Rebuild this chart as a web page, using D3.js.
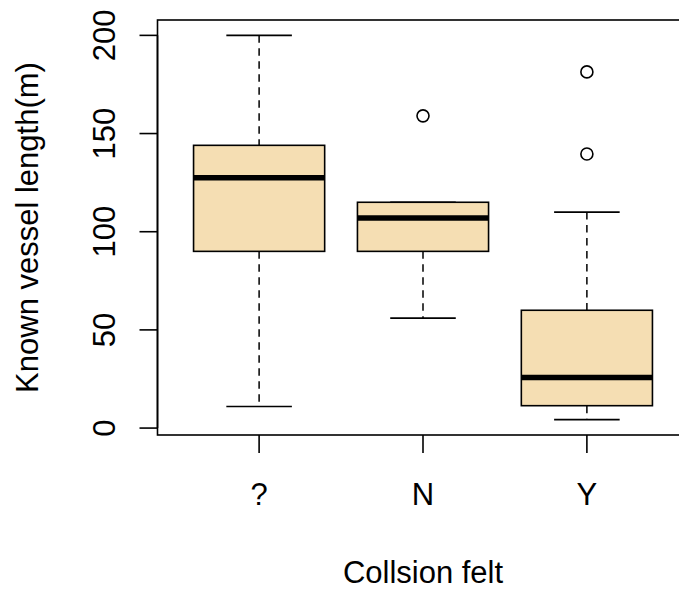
<!DOCTYPE html>
<html>
<head>
<meta charset="utf-8">
<script src="https://cdn.jsdelivr.net/npm/d3@7"></script>
<style>
  html, body { margin: 0; padding: 0; background: #fff; }
  svg { display: block; }
  text { font-family: "Liberation Sans", Arial, sans-serif; fill: #000; }
</style>
</head>
<body>
<svg id="chart" width="679" height="589"></svg>
<script>
// Known vessel length by whether the collision was felt
const categories   = ["?", "N", "Y"];
const whiskerLow   = [11, 56, 4.3];
const quartile1    = [90, 90, 11.4];
const medians      = [127.5, 107, 25.7];
const quartile3    = [144, 115, 60];
const whiskerHigh  = [200, 115, 110];
const outliers     = [[], [159], [181.4, 139.6]];
const yTicks       = [0, 50, 100, 150, 200];

const svg = d3.select("#chart");
const W = 679, H = 589;
svg.append("rect").attr("width", W).attr("height", H).attr("fill", "#fff");

const plot = { left: 157.5, top: 20, right: 688.5, bottom: 435 };
const fontSize = 31;

// R-style axis ranges: extend by 4% on each side
const n = categories.length;
const xPad = n * 0.04;
const x = d3.scaleLinear()
  .domain([0.5 - xPad, n + 0.5 + xPad])
  .range([plot.left, plot.right]);

const allVals = whiskerLow.concat(whiskerHigh, outliers.flat());
const yMin = d3.min(allVals), yMax = d3.max(allVals);
const yPad = (yMax - yMin) * 0.04;
const y = d3.scaleLinear()
  .domain([yMin - yPad, yMax + yPad])
  .range([plot.bottom, plot.top]);

const boxHalf = 0.4;
const stapleHalf = 0.2;
const fill = "#F5DEB3";

const g = svg.append("g");

categories.forEach((c, i) => {
  const cx = x(i + 1);
  const bx0 = x(i + 1 - boxHalf), bx1 = x(i + 1 + boxHalf);
  const sx0 = x(i + 1 - stapleHalf), sx1 = x(i + 1 + stapleHalf);

  // whiskers (dashed)
  g.append("line")
    .attr("x1", cx).attr("x2", cx)
    .attr("y1", y(whiskerHigh[i])).attr("y2", y(quartile3[i]))
    .attr("stroke", "#000").attr("stroke-width", 1.5)
    .attr("stroke-dasharray", "7.5,5.5");
  g.append("line")
    .attr("x1", cx).attr("x2", cx)
    .attr("y1", y(quartile1[i])).attr("y2", y(whiskerLow[i]))
    .attr("stroke", "#000").attr("stroke-width", 1.5)
    .attr("stroke-dasharray", "7.5,5.5");

  // staples
  [whiskerHigh[i], whiskerLow[i]].forEach(v => {
    g.append("line")
      .attr("x1", sx0).attr("x2", sx1)
      .attr("y1", y(v)).attr("y2", y(v))
      .attr("stroke", "#000").attr("stroke-width", 1.6);
  });

  // box
  g.append("rect")
    .attr("x", bx0).attr("y", y(quartile3[i]))
    .attr("width", bx1 - bx0)
    .attr("height", y(quartile1[i]) - y(quartile3[i]))
    .attr("fill", fill).attr("stroke", "#000").attr("stroke-width", 1.6);

  // median
  g.append("line")
    .attr("x1", bx0).attr("x2", bx1)
    .attr("y1", y(medians[i])).attr("y2", y(medians[i]))
    .attr("stroke", "#000").attr("stroke-width", 5.5);

  // outliers
  outliers[i].forEach(v => {
    g.append("circle")
      .attr("cx", cx).attr("cy", y(v)).attr("r", 6)
      .attr("fill", "none").attr("stroke", "#000").attr("stroke-width", 1.6);
  });
});

// frame
svg.append("rect")
  .attr("x", plot.left).attr("y", plot.top)
  .attr("width", plot.right - plot.left)
  .attr("height", plot.bottom - plot.top)
  .attr("fill", "none").attr("stroke", "#000").attr("stroke-width", 1.6);

// y axis
const tickLen = 18;
const yAxis = svg.append("g");
yAxis.append("line")
  .attr("x1", plot.left).attr("x2", plot.left)
  .attr("y1", y(yTicks[0])).attr("y2", y(yTicks[yTicks.length - 1]))
  .attr("stroke", "#000").attr("stroke-width", 1.6);
yTicks.forEach(t => {
  yAxis.append("line")
    .attr("x1", plot.left - tickLen).attr("x2", plot.left)
    .attr("y1", y(t)).attr("y2", y(t))
    .attr("stroke", "#000").attr("stroke-width", 1.6);
  yAxis.append("text")
    .attr("transform", `translate(${plot.left - 42.5},${y(t)}) rotate(-90)`)
    .attr("text-anchor", "middle")
    .attr("font-size", fontSize)
    .text(t);
});

// x axis
const xAxis = svg.append("g");
categories.forEach((c, i) => {
  xAxis.append("line")
    .attr("x1", x(i + 1)).attr("x2", x(i + 1))
    .attr("y1", plot.bottom).attr("y2", plot.bottom + tickLen)
    .attr("stroke", "#000").attr("stroke-width", 1.6);
  xAxis.append("text")
    .attr("x", x(i + 1)).attr("y", 505)
    .attr("text-anchor", "middle")
    .attr("font-size", fontSize)
    .text(c);
});

// axis titles
svg.append("text")
  .attr("x", (plot.left + plot.right) / 2).attr("y", 583)
  .attr("text-anchor", "middle")
  .attr("font-size", fontSize)
  .text("Collsion felt");

svg.append("text")
  .attr("transform", `translate(37.5,${(plot.top + plot.bottom) / 2}) rotate(-90)`)
  .attr("text-anchor", "middle")
  .attr("font-size", fontSize)
  .text("Known vessel length(m)");
</script>
</body>
</html>
